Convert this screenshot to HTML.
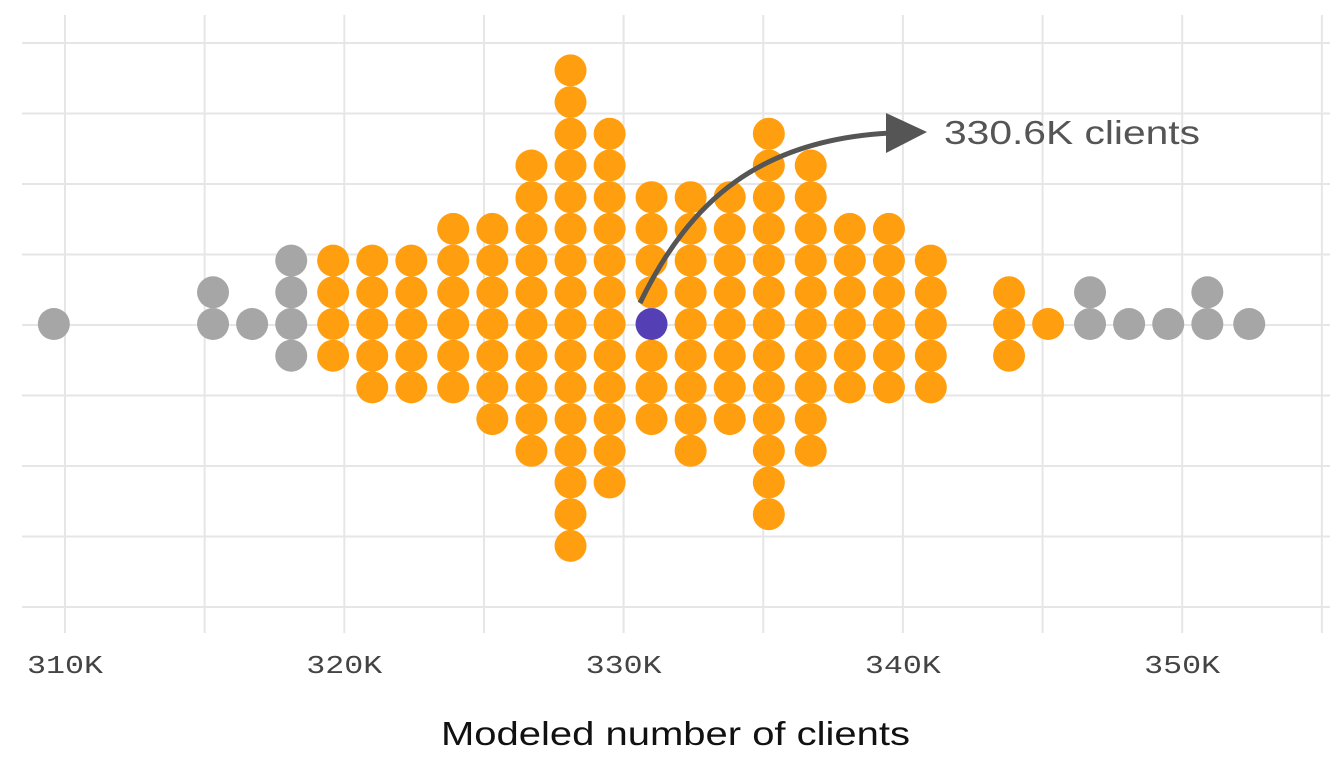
<!DOCTYPE html>
<html><head><meta charset="utf-8"><style>
html,body{margin:0;padding:0;background:#fff}
svg{display:block}
</style></head><body>
<svg id="chart" width="1344" height="768">
<g id="grid"></g>
<g id="dots"></g>
<g id="annot">
<path d="M640,303 C690,200 760,140 890,133" fill="none" stroke="#555" stroke-width="5"/>
<polygon points="886,113 927,132 886,153" fill="#555"/>
<text x="944" y="144" textLength="256" lengthAdjust="spacingAndGlyphs" font-family="Liberation Sans, sans-serif" font-size="33" fill="#555">330.6K clients</text>
</g>
<g id="xaxis"></g>
<text x="441" y="745" textLength="469" lengthAdjust="spacingAndGlyphs" font-family="Liberation Sans, sans-serif" font-size="33" fill="#111">Modeled number of clients</text>
</svg>
<script>
const colValues=[309.6,315.3,316.7,318.1,319.6,321.0,322.4,323.9,325.3,326.7,328.1,329.5,331.0,332.4,333.8,335.2,336.7,338.1,339.5,341.0,343.8,345.2,346.7,348.1,349.5,350.9,352.4];
const colLow =[0,0,0,-1,-1,-2,-2,-2,-3,-4,-7,-5,-3,-4,-3,-6,-4,-2,-2,-2,-1,0,0,0,0,0,0];
const colHigh=[0,1,0,2,2,2,2,3,3,5,8,6,4,4,4,6,5,3,3,2,1,0,1,0,0,1,0];
const colGroup=["out","out","out","out","in","in","in","in","in","in","in","in","in","in","in","in","in","in","in","in","in","in","out","out","out","out","out"];
const highlightValue=331.0, highlightRow=0;
const tickValues=[310,320,330,340,350];
const tickLabels=["310K","320K","330K","340K","350K"];
const NS="http://www.w3.org/2000/svg";
const xs=v=>65+(v-310)*27.93;
const ys=k=>324-k*31.7;
const grid=document.getElementById('grid');
function line(x1,y1,x2,y2,c,w,name){const l=document.createElementNS(NS,'line');
l.setAttribute('x1',x1);l.setAttribute('y1',y1);l.setAttribute('x2',x2);l.setAttribute('y2',y2);
l.setAttribute('stroke',c);l.setAttribute('stroke-width',w);


grid.appendChild(l);}
for(let i=0;i<9;i++){const y=43+i*70.5;line(22,y,1330,y,'#e6e6e6',2,'h-gridline');}
for(let v=310;v<=355;v+=5){const x=xs(v);line(x,15,x,633,'#e6e6e6',2,'v-gridline');}
const dots=document.getElementById('dots');
colValues.forEach((v,i)=>{for(let k=colLow[i];k<=colHigh[i];k++){
const c=document.createElementNS(NS,'circle');
c.setAttribute('cx',xs(v));c.setAttribute('cy',ys(k));c.setAttribute('r',16);
const hl=(v===highlightValue&&k===highlightRow);
c.setAttribute('fill',hl?'#553fb5':(colGroup[i]==='in'?'#ff9f0f':'#a6a6a6'));


dots.appendChild(c);}});
const ax=document.getElementById('xaxis');
tickValues.forEach((v,i)=>{const t=document.createElementNS(NS,'text');
t.setAttribute('x',xs(v)-38);t.setAttribute('y',673);
t.setAttribute('textLength','76');t.setAttribute('lengthAdjust','spacingAndGlyphs');
t.setAttribute('font-family','Liberation Mono, monospace');t.setAttribute('font-size','26');t.setAttribute('fill','#444');
t.textContent=tickLabels[i];


ax.appendChild(t);});
</script>
</body></html>
